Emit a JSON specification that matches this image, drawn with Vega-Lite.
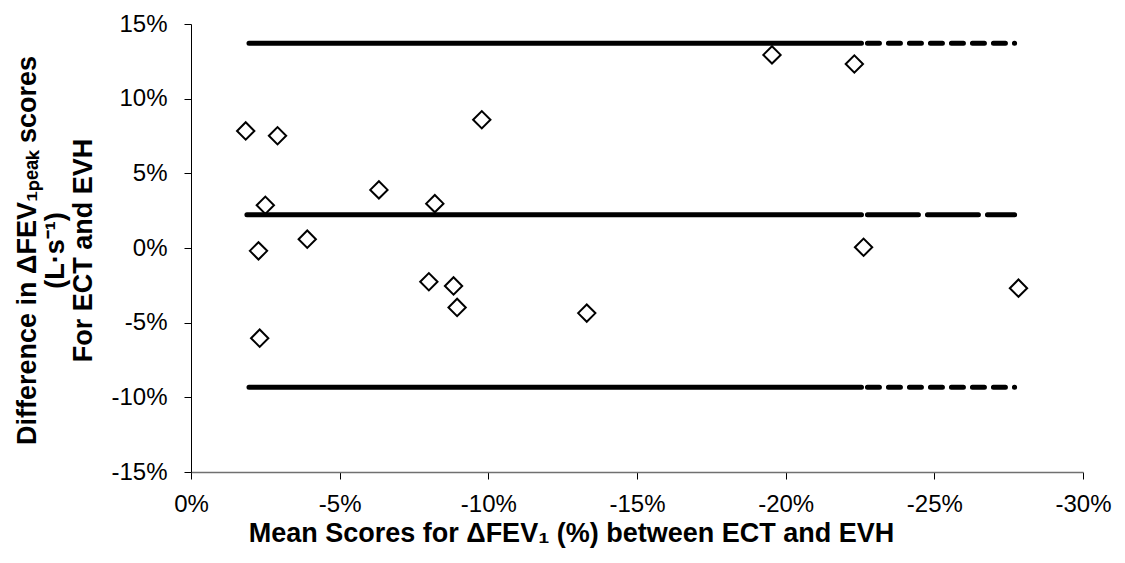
{
  "$schema": "https://vega.github.io/schema/vega-lite/v6.json",
  "width": 892,
  "height": 448,
  "autosize": {"type": "none"},
  "padding": {"left": 191, "top": 24, "right": 42, "bottom": 91},
  "background": "white",
  "config": {"view": {"stroke": null}, "font": "Liberation Sans"},
  "datasets": {
    "points": [
      {"mean": -1.84, "diff": 7.84},
      {"mean": -2.91, "diff": 7.52},
      {"mean": -2.50, "diff": 2.86},
      {"mean": -2.27, "diff": -0.19},
      {"mean": -2.31, "diff": -6.04},
      {"mean": -3.91, "diff": 0.59},
      {"mean": -6.32, "diff": 3.89},
      {"mean": -8.20, "diff": 2.97},
      {"mean": -9.78, "diff": 8.59},
      {"mean": -8.00, "diff": -2.26},
      {"mean": -8.83, "diff": -2.54},
      {"mean": -8.95, "diff": -3.98},
      {"mean": -13.31, "diff": -4.36},
      {"mean": -19.54, "diff": 12.93},
      {"mean": -22.31, "diff": 12.32},
      {"mean": -22.62, "diff": 0.05},
      {"mean": -27.83, "diff": -2.69}
    ],
    "lines": [
      {"seg": "U1", "style": "solid", "x": -1.95, "y": 13.71},
      {"seg": "U1", "style": "solid", "x": -22.55, "y": 13.71},
      {"seg": "U2", "style": "short", "x": -22.75, "y": 13.71},
      {"seg": "U2", "style": "short", "x": -27.7, "y": 13.71},
      {"seg": "M1", "style": "solid", "x": -1.88, "y": 2.22},
      {"seg": "M1", "style": "solid", "x": -22.55, "y": 2.22},
      {"seg": "M2", "style": "long", "x": -22.75, "y": 2.22},
      {"seg": "M2", "style": "long", "x": -27.7, "y": 2.22},
      {"seg": "L1", "style": "solid", "x": -1.95, "y": -9.32},
      {"seg": "L1", "style": "solid", "x": -22.55, "y": -9.32},
      {"seg": "L2", "style": "short", "x": -22.75, "y": -9.32},
      {"seg": "L2", "style": "short", "x": -27.7, "y": -9.32}
    ]
  },
  "layer": [
    {
      "data": {"name": "lines"},
      "mark": {"type": "line", "strokeWidth": 5, "strokeCap": "round", "color": "black"},
      "encoding": {
        "x": {
          "field": "x", "type": "quantitative",
          "scale": {"domain": [-30, 0], "reverse": true, "nice": false, "zero": false},
          "axis": {
            "values": [-30, -25, -20, -15, -10, -5, 0],
            "labelExpr": "datum.value + '%'",
            "labelFlush": false,
            "labelOverlap": false,
            "grid": false,
            "domainColor": "#707070",
            "domainWidth": 1.5,
            "tickColor": "#000000",
            "tickSize": 7,
            "labelFontSize": 24,
            "labelColor": "black",
            "labelPadding": 13,
            "title": "Mean Scores for ΔFEV₁ (%) between ECT and EVH",
            "titleFontSize": 27,
            "titleFontWeight": "bold",
            "titleColor": "black",
            "titleAlign": "center",
            "titleBaseline": "alphabetic",
            "titleX": 380,
            "titleY": 69
          }
        },
        "y": {
          "field": "y", "type": "quantitative",
          "scale": {"domain": [-15, 15], "nice": false, "zero": false},
          "axis": {
            "values": [-15, -10, -5, 0, 5, 10, 15],
            "labelExpr": "datum.value + '%'",
            "labelOverlap": false,
            "grid": false,
            "domainColor": "#000000",
            "tickColor": "#000000",
            "tickSize": 7,
            "labelFontSize": 24,
            "labelColor": "black",
            "labelPadding": 17,
            "title": ["Difference in ΔFEV₁ₚₑₐₖ scores", "(L·s⁻¹)", "For ECT and EVH"],
            "titleFontSize": 27,
            "titleFontWeight": "bold",
            "titleColor": "black",
            "titleAngle": -90,
            "titleAlign": "center",
            "titleBaseline": "bottom",
            "titleLineHeight": 28,
            "titleX": -150,
            "titleY": 226
          }
        },
        "detail": {"field": "seg", "type": "nominal"},
        "strokeDash": {
          "field": "style", "type": "nominal",
          "scale": {"domain": ["solid", "short", "long"], "range": [[1, 0], [12, 9], [51, 9]]},
          "legend": null
        }
      }
    },
    {
      "data": {"name": "points"},
      "mark": {"type": "point", "shape": "diamond", "filled": false, "size": 300, "strokeWidth": 2, "color": "black", "opacity": 1},
      "encoding": {
        "x": {"field": "mean", "type": "quantitative"},
        "y": {"field": "diff", "type": "quantitative"}
      }
    }
  ]
}
